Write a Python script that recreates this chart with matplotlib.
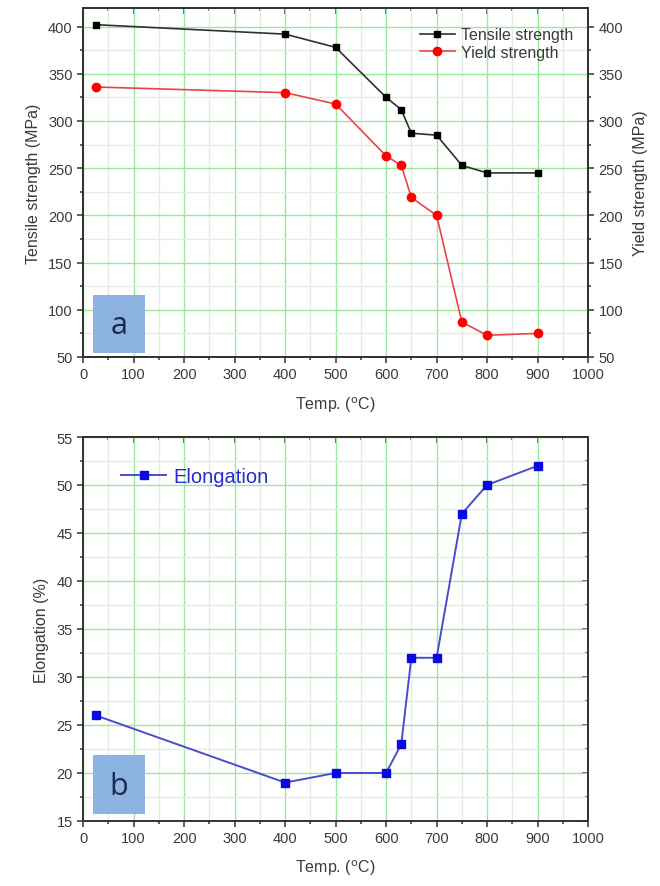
import matplotlib
matplotlib.use("Agg")
import matplotlib.pyplot as plt
from matplotlib.ticker import MultipleLocator
from matplotlib.patches import Rectangle

plt.rcParams['font.family'] = ['Liberation Sans', 'DejaVu Sans']

# data
temps = [25, 400, 500, 600, 630, 650, 700, 750, 800, 900]
tensile = [402, 392, 378, 325, 312, 287, 285, 253, 245, 245]
yield_s = [336, 330, 318, 263, 253, 219, 200, 87, 73, 75]
elong = [26, 19, 20, 20, 23, 32, 32, 47, 50, 52]

txt = "#3a3a3a"
major_grid = "#9be89b"
minor_grid = "#e3eee0"

fig = plt.figure(figsize=(6.6, 8.87), dpi=100)


def ticks(ax, **kw):
    ax.tick_params(which="both", colors="#333333", labelcolor=txt, labelsize=10.5,
                   width=1.1, **kw)
    ax.tick_params(which="major", length=4)
    ax.tick_params(which="minor", length=2.5)


def style(ax, ymaj, ymin):
    ax.set_xlim(0, 1000)
    ax.xaxis.set_major_locator(MultipleLocator(100))
    ax.xaxis.set_minor_locator(MultipleLocator(50))
    ax.yaxis.set_major_locator(MultipleLocator(ymaj))
    ax.yaxis.set_minor_locator(MultipleLocator(ymin))
    ax.grid(which="major", color=major_grid, lw=1.0, zorder=0)
    ax.grid(which="minor", color=minor_grid, lw=1.0, zorder=0)
    ax.set_axisbelow(True)
    for s in ax.spines.values():
        s.set_color("#333333")
        s.set_linewidth(1.4)
    ticks(ax, direction="out")
    ax.set_xlabel("Temp. ($^{\\rm o}$C)", color=txt, fontsize=11.5, labelpad=9)
    # inward ticks along the top edge
    top = ax.secondary_xaxis("top")
    top.xaxis.set_major_locator(MultipleLocator(100))
    top.xaxis.set_minor_locator(MultipleLocator(50))
    ticks(top, direction="in", labeltop=False)
    top.spines["top"].set_linewidth(1.4)
    top.spines["top"].set_color("#333333")


# panel a
ax1 = fig.add_axes([0.126, 0.5964, 0.765, 0.3938])
style(ax1, 50, 25)
ax1.set_ylim(50, 420)
ax1.set_ylabel("Tensile strength (MPa)", color=txt, fontsize=11.5, labelpad=5)
l1, = ax1.plot(temps, tensile, color="#303030", lw=1.2, marker="s", ms=5,
               mfc="black", mec="black", label="Tensile strength", zorder=3)
ax2 = ax1.twinx()
ax2.set_ylim(50, 420)
ax2.yaxis.set_major_locator(MultipleLocator(50))
ax2.yaxis.set_minor_locator(MultipleLocator(25))
ticks(ax2)
for s in ax2.spines.values():
    s.set_color("#333333")
    s.set_linewidth(1.4)
ax2.set_ylabel("Yield strength (MPa)", color=txt, fontsize=11.5, labelpad=7)
l2, = ax2.plot(temps, yield_s, color="#e8454a", lw=1.2, marker="o", ms=6,
               mfc="red", mec="red", label="Yield strength", zorder=3)
ax2.legend(handles=[l1, l2], loc="upper right", bbox_to_anchor=(1.0, 0.985),
           frameon=False, fontsize=11.5, handlelength=2.2, handletextpad=0.4,
           labelspacing=0.15, labelcolor=txt)
ax1.add_patch(Rectangle((20, 54), 102, 62, facecolor="#8db3e2", edgecolor="none", zorder=4))
ax1.text(71, 84, "a", fontsize=22, color="#1a2a50", ha="center", va="center", zorder=5,
         family=["Open Sans", "DejaVu Sans"])

# panel b
ax3 = fig.add_axes([0.126, 0.0733, 0.765, 0.4329])
style(ax3, 5, 2.5)
ax3.set_ylim(15, 55)
ax3.set_ylabel("Elongation (%)", color=txt, fontsize=11.5, labelpad=5)
right = ax3.secondary_yaxis("right")
right.yaxis.set_major_locator(MultipleLocator(5))
right.yaxis.set_minor_locator(MultipleLocator(2.5))
ticks(right, direction="in", labelright=False)
right.spines["right"].set_linewidth(1.4)
right.spines["right"].set_color("#333333")
l3, = ax3.plot(temps, elong, color="#4b4bd0", lw=1.4, marker="s", ms=6,
               mfc="#0a0ae0", mec="#0a0ae0", label="Elongation", zorder=3)
ax3.legend(handles=[l3], loc="upper left", bbox_to_anchor=(0.04, 0.97),
           frameon=False, fontsize=14.5, handlelength=2.2, handletextpad=0.4,
           labelcolor="#2a2ad0")
ax3.add_patch(Rectangle((20, 15.7), 102, 6.2, facecolor="#8db3e2", edgecolor="none", zorder=4))
ax3.text(71, 18.6, "b", fontsize=22, color="#1a2a50", ha="center", va="center", zorder=5,
         family=["Open Sans", "DejaVu Sans"])

fig.savefig("out.png", dpi=100)
